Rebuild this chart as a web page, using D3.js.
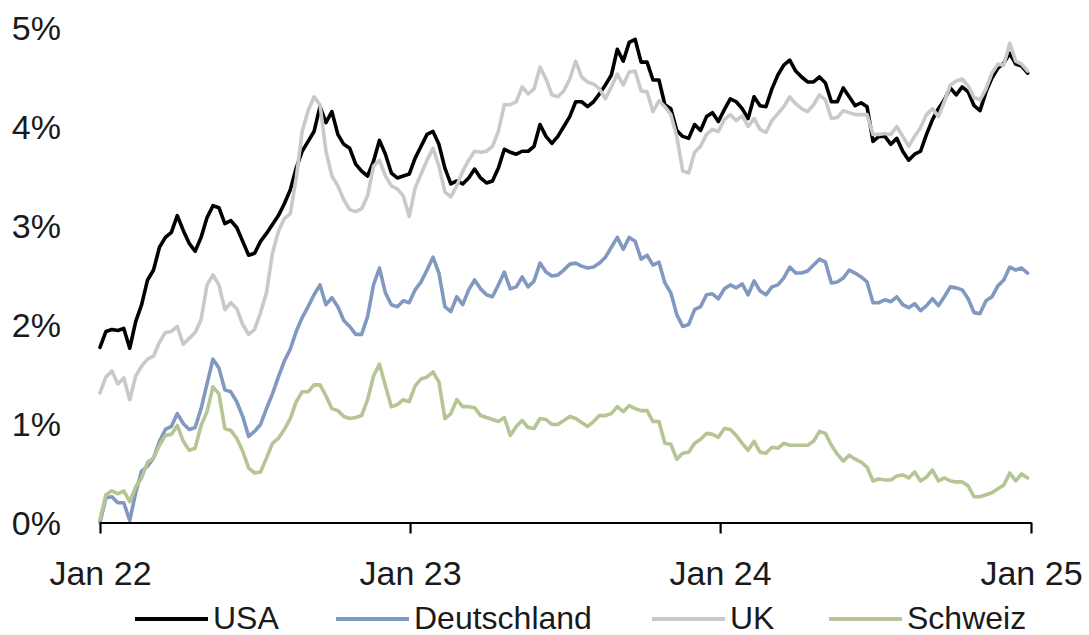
<!DOCTYPE html>
<html>
<head>
<meta charset="utf-8">
<script src="https://cdn.jsdelivr.net/npm/d3@7"></script>
<style>
  html, body { margin: 0; padding: 0; background: #fff; }
  svg { display: block; }
  text { font-family: "Liberation Sans", Arial, sans-serif; fill: #1a1a1a; }
</style>
</head>
<body>
<svg id="chart" width="1089" height="635"></svg>
<script>
// Weekly 10-year government bond yields, in percent (Jan 2022 – Jan 2025)
const startDate = new Date(2022, 0, 1);
const weeks = d3.range(157).map(i => d3.timeDay.offset(startDate, i * 7));

const usa = [
  1.77,1.93,1.95,1.94,1.96,1.76,2.03,2.20,2.45,2.55,
  2.78,2.88,2.93,3.10,2.95,2.82,2.74,2.88,3.08,3.20,
  3.18,3.02,3.05,2.98,2.84,2.70,2.72,2.84,2.92,3.01,
  3.10,3.22,3.36,3.58,3.75,3.85,3.95,4.20,4.04,4.15,
  3.92,3.82,3.78,3.62,3.55,3.50,3.65,3.86,3.72,3.53,
  3.48,3.50,3.52,3.68,3.80,3.92,3.95,3.82,3.58,3.42,
  3.45,3.42,3.48,3.57,3.48,3.43,3.45,3.58,3.77,3.74,
  3.72,3.75,3.75,3.80,4.02,3.90,3.83,3.90,4.00,4.10,
  4.25,4.25,4.20,4.25,4.33,4.42,4.52,4.78,4.66,4.85,
  4.88,4.65,4.65,4.47,4.47,4.22,4.18,3.96,3.90,3.88,
  4.02,3.96,4.10,4.14,4.05,4.17,4.28,4.25,4.18,4.08,
  4.30,4.21,4.20,4.38,4.52,4.62,4.67,4.56,4.50,4.45,
  4.45,4.50,4.44,4.25,4.25,4.39,4.30,4.21,4.24,4.20,
  3.85,3.90,3.90,3.82,3.88,3.75,3.66,3.72,3.75,3.92,
  4.07,4.18,4.27,4.39,4.32,4.40,4.35,4.21,4.16,4.35,
  4.49,4.59,4.64,4.74,4.63,4.61,4.54
];

const deutschland = [
  0.00,0.25,0.26,0.20,0.20,0.02,0.30,0.52,0.57,0.65,
  0.82,0.94,0.97,1.10,1.00,0.94,0.96,1.15,1.40,1.65,
  1.56,1.34,1.32,1.22,1.07,0.87,0.92,0.99,1.15,1.30,
  1.47,1.63,1.75,1.93,2.07,2.18,2.30,2.40,2.20,2.27,
  2.18,2.04,1.98,1.90,1.90,2.08,2.40,2.57,2.32,2.20,
  2.18,2.24,2.22,2.35,2.43,2.55,2.68,2.52,2.18,2.13,
  2.28,2.20,2.35,2.45,2.36,2.30,2.28,2.40,2.53,2.36,
  2.38,2.48,2.38,2.44,2.62,2.53,2.49,2.50,2.55,2.61,
  2.62,2.59,2.57,2.58,2.62,2.68,2.78,2.88,2.76,2.88,
  2.84,2.66,2.70,2.60,2.63,2.42,2.32,2.10,1.98,2.00,
  2.15,2.18,2.30,2.31,2.26,2.36,2.40,2.37,2.41,2.30,
  2.44,2.34,2.30,2.38,2.40,2.47,2.58,2.52,2.52,2.54,
  2.60,2.66,2.63,2.42,2.43,2.47,2.55,2.52,2.48,2.43,
  2.22,2.22,2.25,2.23,2.28,2.20,2.17,2.21,2.14,2.19,
  2.26,2.19,2.28,2.38,2.37,2.35,2.26,2.12,2.11,2.24,
  2.28,2.39,2.45,2.58,2.55,2.57,2.52
];

const uk = [
  1.31,1.47,1.53,1.40,1.46,1.24,1.48,1.58,1.65,1.68,
  1.82,1.92,1.93,1.98,1.80,1.86,1.92,2.05,2.40,2.50,
  2.40,2.15,2.22,2.16,2.00,1.90,1.95,2.12,2.32,2.72,
  2.94,3.07,3.12,3.48,3.95,4.16,4.30,4.22,3.75,3.50,
  3.40,3.26,3.16,3.14,3.17,3.30,3.60,3.66,3.50,3.40,
  3.37,3.30,3.09,3.38,3.52,3.66,3.78,3.60,3.34,3.29,
  3.40,3.55,3.66,3.75,3.74,3.75,3.80,3.95,4.22,4.22,
  4.25,4.40,4.33,4.38,4.60,4.48,4.32,4.30,4.36,4.48,
  4.66,4.50,4.45,4.43,4.38,4.28,4.40,4.53,4.42,4.55,
  4.56,4.36,4.35,4.15,4.26,4.20,4.12,3.90,3.55,3.53,
  3.74,3.80,3.92,3.97,3.95,4.07,4.12,4.06,4.11,4.00,
  4.08,3.97,3.94,4.06,4.13,4.20,4.30,4.23,4.18,4.15,
  4.22,4.32,4.27,4.08,4.09,4.16,4.14,4.12,4.12,4.12,
  3.92,3.92,3.93,3.92,4.00,3.90,3.80,3.90,3.99,4.12,
  4.18,4.10,4.25,4.42,4.46,4.48,4.41,4.29,4.27,4.38,
  4.54,4.63,4.62,4.84,4.66,4.63,4.56
];

const schweiz = [
  0.03,0.28,0.32,0.29,0.32,0.21,0.36,0.45,0.61,0.65,
  0.78,0.88,0.89,0.98,0.82,0.73,0.75,0.98,1.12,1.37,
  1.30,0.95,0.93,0.85,0.72,0.55,0.50,0.51,0.65,0.80,
  0.85,0.94,1.05,1.22,1.32,1.32,1.39,1.39,1.28,1.15,
  1.13,1.07,1.05,1.06,1.08,1.24,1.48,1.60,1.38,1.17,
  1.19,1.24,1.22,1.38,1.45,1.47,1.52,1.42,1.05,1.10,
  1.24,1.17,1.17,1.16,1.08,1.06,1.04,1.02,1.06,0.88,
  0.97,1.03,0.96,0.95,1.05,1.04,0.99,0.99,1.03,1.07,
  1.05,1.01,0.97,1.02,1.08,1.08,1.10,1.17,1.12,1.18,
  1.15,1.13,1.13,1.02,1.02,0.80,0.79,0.64,0.70,0.71,
  0.80,0.84,0.90,0.89,0.86,0.95,0.94,0.88,0.80,0.73,
  0.82,0.71,0.70,0.76,0.75,0.80,0.78,0.78,0.78,0.78,
  0.82,0.92,0.90,0.78,0.69,0.62,0.68,0.64,0.61,0.56,
  0.42,0.44,0.43,0.43,0.47,0.48,0.45,0.51,0.42,0.46,
  0.53,0.42,0.45,0.42,0.41,0.41,0.37,0.26,0.26,0.28,
  0.30,0.34,0.38,0.50,0.42,0.49,0.45
];

const seriesNames = ["USA", "Deutschland", "UK", "Schweiz"];
const seriesColors = ["#000000", "#8198c0", "#c9c9c9", "#b5c594"];
const seriesValues = [usa, deutschland, uk, schweiz];

const yTicks = [0, 1, 2, 3, 4, 5];
const xTickDates = [new Date(2022, 0, 1), new Date(2023, 0, 1), new Date(2024, 0, 1), new Date(2025, 0, 1)];
const xTickLabels = ["Jan 22", "Jan 23", "Jan 24", "Jan 25"];

const svg = d3.select("#chart");

const x = d3.scaleTime()
  .domain([new Date(2022, 0, 1), new Date(2025, 0, 1)])
  .range([100, 1031]);

const y = d3.scaleLinear()
  .domain([0, 5])
  .range([522.5, 27.5]);

// y labels (no axis line, no grid)
svg.append("g")
  .selectAll("text")
  .data(yTicks)
  .join("text")
  .attr("x", 61)
  .attr("y", d => y(d) + 12)
  .attr("text-anchor", "end")
  .attr("font-size", 34)
  .text(d => d + "%");

// series lines
const line = d3.line()
  .x((d, i) => x(weeks[i]))
  .y(d => y(d));

svg.append("g")
  .selectAll("path")
  .data(seriesValues)
  .join("path")
  .attr("fill", "none")
  .attr("stroke", (d, i) => seriesColors[i])
  .attr("stroke-width", 3.6)
  .attr("stroke-linejoin", "round")
  .attr("stroke-linecap", "round")
  .attr("d", line);

// bottom axis
const xAxis = d3.axisBottom(x)
  .tickValues(xTickDates)
  .tickFormat((d, i) => xTickLabels[i])
  .tickSize(11)
  .tickSizeOuter(0)
  .tickPadding(27);

const gx = svg.append("g")
  .attr("transform", "translate(0,522.5)")
  .call(xAxis);

gx.select(".domain").attr("stroke", "#000").attr("stroke-width", 2.2);
gx.selectAll(".tick line").attr("stroke", "#000").attr("stroke-width", 2.2);
gx.selectAll(".tick text")
  .attr("font-size", 34)
  .attr("font-family", "'Liberation Sans', Arial, sans-serif")
  .attr("fill", "#1a1a1a");

// legend
const legendX = [135, 336, 652, 829];
const legend = svg.append("g");
seriesNames.forEach((name, i) => {
  const g = legend.append("g").attr("transform", `translate(${legendX[i]},619)`);
  g.append("line")
    .attr("x1", 0).attr("x2", 73)
    .attr("y1", 0).attr("y2", 0)
    .attr("stroke", seriesColors[i])
    .attr("stroke-width", 4);
  g.append("text")
    .attr("x", 78)
    .attr("y", 10)
    .attr("font-size", 32)
    .text(name);
});
</script>
</body>
</html>
